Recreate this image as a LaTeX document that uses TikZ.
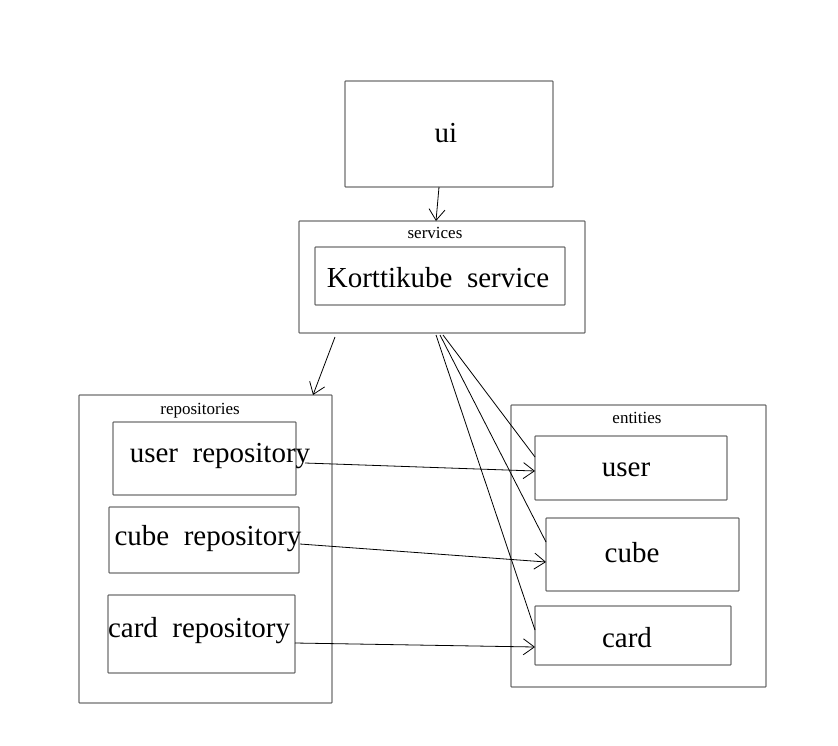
\documentclass[tikz,border=0pt]{standalone}
\usepackage{fontspec}
\setmainfont{Liberation Serif}
\usetikzlibrary{arrows.meta}
\definecolor{boxgray}{RGB}{112,112,112}
\begin{document}
\begin{tikzpicture}[x=1pt,y=-1pt,
  box/.style={draw=boxgray,line width=1.3pt,rounded corners=0.8pt,inner sep=0pt,outer sep=0pt},
  big/.style={font=\fontsize{29}{33}\selectfont,anchor=base,inner sep=0pt},
  small/.style={font=\fontsize{17}{20}\selectfont,anchor=base,inner sep=0pt},
  conn/.style={draw=black,line width=0.8pt},
  arr/.style={conn,-{Straight Barb[length=11pt,width=16pt,line width=0.8pt]}}]
\useasboundingbox (0,0) rectangle (838,745);
% boxes
\node[box,minimum width=208pt,minimum height=106pt] (ui) at (449,134) {};
\node[box,minimum width=286pt,minimum height=112pt] (services) at (442,277) {};
\node[box,minimum width=250pt,minimum height=58pt] (ksvc) at (440,276) {};
\node[box,minimum width=253pt,minimum height=308pt] (repos) at (205.5,549) {};
\node[box,minimum width=183pt,minimum height=73pt] (urepo) at (204.5,458.5) {};
\node[box,minimum width=190pt,minimum height=66pt] (crepo) at (204,540) {};
\node[box,minimum width=187pt,minimum height=78pt] (krepo) at (201.5,634) {};
\node[box,minimum width=255pt,minimum height=282pt] (entities) at (638.5,546) {};
\node[box,minimum width=192pt,minimum height=64pt] (user) at (631,468) {};
\node[box,minimum width=193pt,minimum height=73pt] (cube) at (642.5,554.5) {};
\node[box,minimum width=196pt,minimum height=59pt] (card) at (633,635.5) {};
% texts
\node[big] (tui) at (446,142) {ui};
\node[small] (tservices) at (435,238) {services};
\node[big] (tksvc) at (438,287) {Korttikube\ \ service};
\node[small] (trepos) at (200,414) {repositories};
\node[big] (turepo) at (220,462) {user\ \ repository};
\node[big] (tcrepo) at (208,545) {cube\ \ repository};
\node[big] (tkrepo) at (199,637) {card\ \ repository};
\node[small] (tentities) at (637,423) {entities};
\node[big] (tuser) at (626,476) {user};
\node[big] (tcube) at (632,562) {cube};
\node[big] (tcard) at (627,647) {card};
% connectors
\draw[arr] ([xshift=-10pt]ui.south) -- ([xshift=-6pt]services.north);
\draw[arr] ([shift={(-107pt,-4pt)}]services.south) -- ([xshift=107.5pt]repos.north);
\draw[arr] ([shift={(9pt,-4.5pt)}]urepo.east) -- ([yshift=-3pt]user.west);
\draw[arr] ([shift={(1pt,-4pt)}]crepo.east) -- ([yshift=-7.5pt]cube.west);
\draw[arr] ([yshift=-9pt]krepo.east) -- ([yshift=-11.5pt]card.west);
\draw[conn] ([shift={(1pt,-2pt)}]services.south) -- ([yshift=11pt]user.west);
\draw[conn] ([shift={(-2pt,-2pt)}]services.south) -- ([yshift=12.5pt]cube.west);
\draw[conn] ([shift={(-6pt,-2pt)}]services.south) -- ([yshift=5.5pt]card.west);
\end{tikzpicture}
\end{document}
